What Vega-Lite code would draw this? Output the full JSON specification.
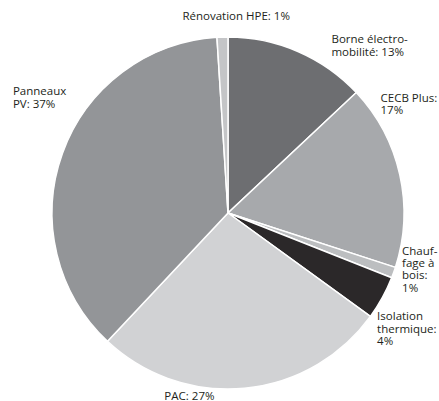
{
  "$schema": "https://vega.github.io/schema/vega-lite/v6.json",
  "width": 422,
  "height": 376,
  "autosize": {"type": "none"},
  "padding": {"left": 17, "top": 25, "right": 0, "bottom": 0},
  "background": "white",
  "config": {"view": {"stroke": null}, "text": {"font": "Open Sans", "fontSize": 11.5, "color": "#231f20"}},
  "data": {
    "values": [
      {"cat": "Borne", "order": 1, "value": 13, "label": "Borne électro-\nmobilité: 13%"},
      {"cat": "CECB", "order": 2, "value": 17, "label": "CECB Plus:\n17%"},
      {"cat": "Chauffage", "order": 3, "value": 1, "label": "Chauf-\nfage à\nbois:\n1%"},
      {"cat": "Isolation", "order": 4, "value": 4, "label": "Isolation\nthermique:\n4%"},
      {"cat": "PAC", "order": 5, "value": 27, "label": "PAC: 27%"},
      {"cat": "PV", "order": 6, "value": 37, "label": "Panneaux\nPV: 37%"},
      {"cat": "Renovation", "order": 7, "value": 1, "label": "Rénovation HPE: 1%"}
    ]
  },
  "encoding": {
    "theta": {"field": "value", "type": "quantitative", "stack": true},
    "order": {"field": "order", "type": "quantitative"}
  },
  "layer": [
    {
      "mark": {"type": "arc", "outerRadius": 176, "stroke": "white", "strokeWidth": 1.5},
      "encoding": {
        "color": {
          "field": "cat", "type": "nominal", "legend": null,
          "scale": {
            "domain": ["Borne", "CECB", "Chauffage", "Isolation", "PAC", "PV", "Renovation"],
            "range": ["#6d6e71", "#a7a9ac", "#bcbec0", "#2b2829", "#d1d2d4", "#939598", "#c4c5c7"]
          }
        }
      }
    },
    {
      "mark": {"type": "text", "radius": 185, "align": "left", "baseline": "top", "lineBreak": "\n", "lineHeight": 12.5, "dx": 30, "dy": -9},
      "encoding": {"text": {"condition": {"test": "datum.cat === 'Borne'", "field": "label"}, "value": ""}}
    },
    {
      "mark": {"type": "text", "radius": 185, "align": "left", "baseline": "top", "lineBreak": "\n", "lineHeight": 12.5, "dx": -28, "dy": -80},
      "encoding": {"text": {"condition": {"test": "datum.cat === 'CECB'", "field": "label"}, "value": ""}}
    },
    {
      "mark": {"type": "text", "radius": 185, "align": "left", "baseline": "top", "lineBreak": "\n", "lineHeight": 12.3, "dx": 0, "dy": -30},
      "encoding": {"text": {"condition": {"test": "datum.cat === 'Chauffage'", "field": "label"}, "value": ""}}
    },
    {
      "mark": {"type": "text", "radius": 185, "align": "left", "baseline": "top", "lineBreak": "\n", "lineHeight": 12.5, "dx": -13, "dy": 9},
      "encoding": {"text": {"condition": {"test": "datum.cat === 'Isolation'", "field": "label"}, "value": ""}}
    },
    {
      "mark": {"type": "text", "radius": 185, "align": "center", "baseline": "top", "lineBreak": "\n", "lineHeight": 12.5, "dx": -56, "dy": -6},
      "encoding": {"text": {"condition": {"test": "datum.cat === 'PAC'", "field": "label"}, "value": ""}}
    },
    {
      "mark": {"type": "text", "radius": 185, "align": "left", "baseline": "top", "lineBreak": "\n", "lineHeight": 12.5, "dx": -41, "dy": -64},
      "encoding": {"text": {"condition": {"test": "datum.cat === 'PV'", "field": "label"}, "value": ""}}
    },
    {
      "mark": {"type": "text", "radius": 185, "align": "center", "baseline": "top", "lineBreak": "\n", "lineHeight": 12.5, "dx": 14, "dy": -17},
      "encoding": {"text": {"condition": {"test": "datum.cat === 'Renovation'", "field": "label"}, "value": ""}}
    }
  ]
}
